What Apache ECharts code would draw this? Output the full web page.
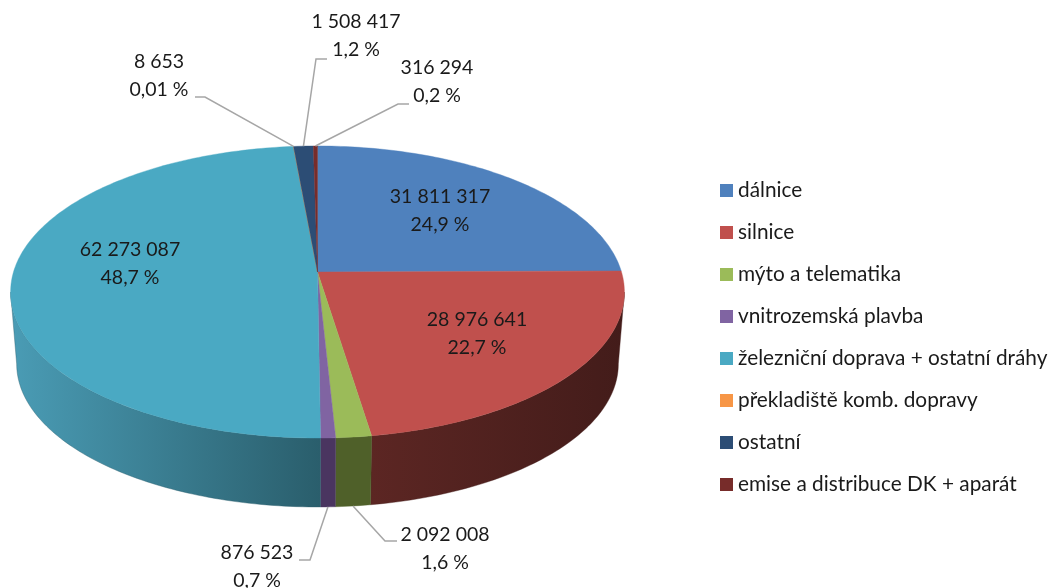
<!DOCTYPE html>
<html>
<head>
<meta charset="utf-8">
<style>
html, body { margin: 0; padding: 0; background: #fff; }
#chart { width: 1051px; height: 588px; }
</style>
<script src="https://cdn.jsdelivr.net/npm/echarts@6/dist/echarts.min.js"></script>
</head>
<body>
<div id="chart"></div>
<script>
var categories = ['dálnice', 'silnice', 'mýto a telematika', 'vnitrozemská plavba',
    'železniční doprava + ostatní dráhy', 'překladiště komb. dopravy', 'ostatní', 'emise a distribuce DK + aparát'];
var values = [31811317, 28976641, 2092008, 876523, 62273087, 8653, 1508417, 316294];
var percents = ['24,9 %', '22,7 %', '1,6 %', '0,7 %', '48,7 %', '0,01 %', '1,2 %', '0,2 %'];

var topColors = ['#4f81bd', '#c0504d', '#9bbb59', '#8064a2', '#4aa9c3', '#f79646', '#2c4d75', '#772c2a'];
// wall shading, left edge -> right edge of each slice
var wallColors = [
    ['#2f4d71', '#2f4d71'], ['#5c2623', '#431c1a'], ['#4f6029', '#4f6029'], ['#4a3560', '#4a3560'],
    ['#4a9cb5', '#2a5e6c'], ['#94591f', '#94591f'], ['#1b2f47', '#1b2f47'], ['#471a19', '#471a19']
];

// label centre [x, y of first line], leader elbow and leader end (null = inside the slice)
var labelPos = [[440, 197], [477, 320], [445, 535], [257, 553], [130, 250], [159, 62], [356, 22], [437, 68]];
var leaderElbow = [null, null, [385, 541], [310, 560], null, [205, 97], [316, 59], [398, 104]];
var leaderEnd = [null, null, [397, 541], [299, 560], null, [195, 97], [327, 59], [409, 104]];
var leaderOnBottom = [false, false, true, true, false, false, false, false];

var total = values.reduce(function (a, b) { return a + b; }, 0);
var startShare = [];
values.reduce(function (acc, v, i) { startShare[i] = acc; return acc + v / total; }, 0);

// the disc is drawn in perspective, so the apex sits above the middle of the ellipse
var PERSP = 0.137;
var topRim = { cx: 317.5, cy: 272, rx: 304, ry: 143.3 };
var bottomRim = { cx: 317.5, cy: 344.3, rx: 298, ry: 140.4 };
// only this part of the rim faces the viewer (widest points of the projected disc)
var frontFrom = Math.acos(-PERSP) / (Math.PI * 2);
var frontTo = 1 - frontFrom;

function rimPoint(rim, share) {
    var a = share * Math.PI * 2;
    var w = 1 + PERSP * Math.cos(a);
    return [rim.cx + rim.rx * Math.sin(a) / w, rim.cy - rim.ry * Math.cos(a) / w];
}

function arcPoints(rim, from, to) {
    var steps = Math.max(2, Math.ceil((to - from) * 360));
    var pts = [];
    for (var s = 0; s <= steps; s++) {
        pts.push(rimPoint(rim, from + (to - from) * s / steps));
    }
    return pts;
}

function renderTop(i) {
    var pts = [[topRim.cx, topRim.cy]].concat(arcPoints(topRim, startShare[i], startShare[i] + values[i] / total));
    return {
        type: 'polygon',
        shape: { points: pts },
        style: { fill: topColors[i], stroke: topColors[i], lineWidth: 0.4 }
    };
}

function renderWall(params) {
    var i = params.dataIndex;
    var from = Math.max(startShare[i], frontFrom);
    var to = Math.min(startShare[i] + values[i] / total, frontTo);
    if (to <= from) {
        return null;
    }
    var pts = arcPoints(topRim, from, to).concat(arcPoints(bottomRim, from, to).reverse());
    var xs = pts.map(function (p) { return p[0]; });
    var x0 = Math.min.apply(null, xs), x1 = Math.max.apply(null, xs);
    var fill = new echarts.graphic.LinearGradient(x0, 0, x1, 0, [
        { offset: 0, color: wallColors[i][0] },
        { offset: 1, color: wallColors[i][1] }
    ], true);
    return { type: 'polygon', shape: { points: pts }, style: { fill: fill, stroke: wallColors[i][1], lineWidth: 0.4 } };
}

function renderLabel(params) {
    var i = params.dataIndex;
    var children = [];
    var txt = String(values[i]).replace(/\B(?=(\d{3})+$)/g, ' ');
    if (leaderElbow[i]) {
        var anchor = rimPoint(leaderOnBottom[i] ? bottomRim : topRim, startShare[i] + values[i] / total / 2);
        children.push({
            type: 'polyline',
            shape: { points: [anchor, leaderElbow[i], leaderEnd[i]] },
            style: { fill: null, stroke: '#a6a6a6', lineWidth: 1.5 }
        });
    }
    [txt, percents[i]].forEach(function (line, n) {
        children.push({
            type: 'text',
            style: {
                x: labelPos[i][0], y: labelPos[i][1] + n * 27.5, text: line,
                align: 'center', verticalAlign: 'middle',
                font: '19.5px Lato', fill: '#1a1a1a'
            }
        });
    });
    return { type: 'group', children: children };
}

var series = categories.map(function (name, i) {
    return {
        name: name,
        type: 'custom',
        coordinateSystem: 'none',
        z: 3,
        silent: true,
        itemStyle: { color: topColors[i] },
        data: [[i, values[i]]],
        renderItem: function () { return renderTop(i); }
    };
});
series.push({
    type: 'custom', coordinateSystem: 'none', z: 2, silent: true,
    data: values.map(function (v, i) { return [i, v]; }),
    renderItem: renderWall
});
series.push({
    type: 'custom', coordinateSystem: 'none', z: 4, silent: true,
    data: values.map(function (v, i) { return [i, v]; }),
    renderItem: renderLabel
});

var chart = echarts.init(document.getElementById('chart'));
chart.setOption({
    backgroundColor: '#fff',
    animation: false,
    legend: {
        data: categories,
        orient: 'vertical',
        left: 720,
        top: 180,
        padding: 0,
        icon: 'rect',
        itemWidth: 13,
        itemHeight: 13,
        itemGap: 21,
        selectedMode: false,
        textStyle: { fontFamily: 'Lato', fontSize: 20.8, color: '#1a1a1a' }
    },
    series: series
});
</script>
</body>
</html>
